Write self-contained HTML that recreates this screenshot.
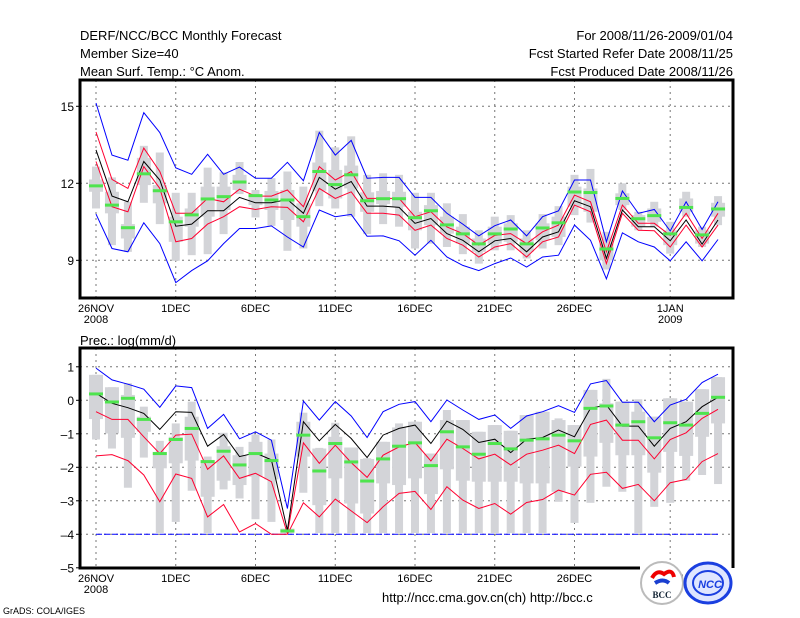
<!DOCTYPE html>
<html><head><meta charset="utf-8">
<style>
html,body{margin:0;padding:0;background:#fff;}
svg{display:block;font-family:"Liberation Sans",sans-serif;}
</style></head>
<body>
<svg id="chart" width="800" height="618" viewBox="0 0 800 618" xmlns="http://www.w3.org/2000/svg">
<rect width="800" height="618" fill="#fff"/>
<g font-size="13" fill="#000">
<text x="80" y="40">DERF/NCC/BCC Monthly Forecast</text>
<text x="80" y="58">Member Size=40</text>
<text x="80" y="76">Mean Surf. Temp.: °C Anom.</text>
<text x="733" y="40" text-anchor="end">For 2008/11/26-2009/01/04</text>
<text x="733" y="58" text-anchor="end">Fcst Started Refer Date 2008/11/25</text>
<text x="733" y="76" text-anchor="end">Fcst Produced Date 2008/11/26</text>
<text x="80" y="345">Prec.: log(mm/d)</text>
</g>
<g id="top"></g>
<g id="bot"></g>
<g font-size="13">
<text x="382" y="602">http://ncc.cma.gov.cn(ch)   http://bcc.c</text>
<text x="3" y="614" font-size="9">GrADS: COLA/IGES</text>
</g>
<g>
<circle cx="662" cy="583" r="21" fill="#fff" stroke="#bbb" stroke-width="2"/>
<path d="M652 578 q5 -9 12 -4 q8 -6 10 3" stroke="#e00" stroke-width="4" fill="none"/>
<path d="M655 583 q8 -5 14 0" stroke="#1a3fd0" stroke-width="4" fill="none"/>
<text x="662" y="598" font-size="9" font-weight="bold" text-anchor="middle" fill="#123" font-family="Liberation Serif,serif">BCC</text>
</g>
<g>
<ellipse cx="708" cy="583" rx="23" ry="20" fill="#dfe6ff" stroke="#1a3fe0" stroke-width="3"/>
<ellipse cx="708" cy="583" rx="15" ry="12" fill="none" stroke="#1a3fe0" stroke-width="2"/>
<text x="710" y="588" font-size="11" font-weight="bold" font-style="italic" text-anchor="middle" fill="#1a3fe0">NCC</text>
</g>
</svg>
<script>
// ---- data ----
const days = 40;
const xTickDays = [0,5,10,15,20,25,30,36];
const xTickLabels = ["26NOV","1DEC","6DEC","11DEC","16DEC","21DEC","26DEC","1JAN"];
const xTickYears = ["2008","","","","","","","2009"];
const tTicks = [15,12,9];
const pTicks = [1,0,-1,-2,-3,-4,-5];

const tBlueHi = [15.13,13.1,12.9,14.75,13.98,12.6,12.35,13.13,12.35,12.63,12.2,12.2,12.82,12.1,13.98,13.1,13.67,12.2,12.23,12.23,11.45,11.45,10.83,10.41,9.95,10.35,10.57,9.95,10.7,10.93,12.13,12.13,9.72,11.7,10.83,10.98,10.14,11.28,10.2,11.28];
const tRedHi = [14.0,12.15,11.8,13.37,12.46,10.83,10.83,11.41,11.28,11.77,11.5,11.5,11.74,11.09,12.65,12.13,12.46,11.41,11.41,11.41,10.7,10.89,10.3,10.04,9.59,9.97,10.04,9.65,10.11,10.37,11.54,11.28,9.33,11.15,10.44,10.44,9.97,10.83,9.85,10.83];
const tMean = [13.3,11.5,11.28,12.85,12.13,10.33,10.41,10.93,10.93,11.45,11.24,11.24,11.37,10.83,12.23,11.77,12.07,11.11,11.11,11.06,10.44,10.63,10.04,9.78,9.33,9.76,9.85,9.33,9.91,10.11,11.32,11.09,9.07,10.96,10.31,10.31,9.76,10.57,9.63,10.57];
const tRedLo = [12.85,11.09,10.89,12.65,11.8,9.72,9.85,10.41,10.7,11.09,10.98,11.09,11.06,10.5,11.8,11.41,11.67,10.83,10.83,10.76,10.17,10.37,9.85,9.59,9.13,9.52,9.65,9.13,9.72,9.91,11.15,10.89,8.87,10.83,10.17,10.15,9.52,10.37,9.52,10.37];
const tBlueLo = [10.8,9.46,9.33,10.46,9.65,8.13,8.6,8.98,9.65,10.24,10.24,10.34,9.91,9.52,10.96,10.7,10.79,9.94,9.95,9.76,9.2,9.78,9.13,8.8,8.6,8.87,9.09,8.74,9.13,9.2,10.37,9.78,8.28,10.07,9.72,9.52,8.98,9.72,8.98,9.81];
const tObs = [11.9,11.15,10.27,12.37,11.71,10.5,10.77,11.39,11.48,12.05,11.52,11.35,11.35,10.7,12.46,11.95,12.33,11.32,11.4,11.4,10.66,10.93,10.38,10.03,9.64,10.03,10.22,9.64,10.26,10.46,11.66,11.64,9.44,11.41,10.62,10.74,10.03,11.06,9.99,11.0];
const tMax = [12.65,12.23,11.28,13.46,13.2,11.63,11.63,12.61,12.43,12.83,11.74,12.2,12.46,11.87,14.05,13.4,13.83,12.33,12.39,12.33,11.63,11.63,11.22,10.8,10.17,10.7,10.76,10.17,10.8,11.11,12.33,12.56,10.11,12.0,10.89,11.28,10.5,11.67,10.31,11.5];
const tMin = [11.02,9.59,9.33,11.24,10.41,8.98,9.2,9.24,10.02,11.58,10.67,10.34,9.37,9.46,11.11,11.02,10.7,10.02,10.41,10.31,9.46,9.65,9.52,9.24,8.87,9.39,9.39,9.07,9.46,9.59,10.76,10.47,8.64,10.96,10.17,10.31,9.26,10.7,9.52,10.37];
const tQ3 = [12.15,11.67,10.41,12.99,11.93,10.7,11.02,11.87,11.87,12.33,11.54,11.7,11.74,11.22,12.81,12.52,12.69,11.65,11.7,11.67,10.89,11.15,10.7,10.31,9.85,10.31,10.44,9.85,10.44,10.7,11.87,11.8,9.65,11.61,10.76,11.02,10.17,11.41,10.17,11.24];
const tQ1 = [11.67,10.83,9.85,11.93,11.22,9.72,10.31,10.7,10.96,11.74,11.15,10.96,10.57,10.31,11.71,11.41,11.8,10.89,11.19,11.09,10.17,10.37,10.04,9.65,9.33,9.65,9.72,9.33,9.78,9.91,11.09,10.89,9.0,11.15,10.31,10.5,9.59,10.89,9.65,10.7];

const pBlueHi = [0.96,0.61,0.48,0.33,-0.21,0.43,0.38,-0.84,-0.42,-1.15,-0.94,-1.19,-3.23,-0.02,-0.59,-0.04,-0.47,-1.11,-0.34,-0.12,-0.04,-0.64,0.01,-0.29,-0.57,-0.44,-0.84,-0.47,-0.34,-0.16,-0.36,0.49,0.59,-0.06,-0.06,-0.64,-0.14,0.03,0.53,0.78];
const pRedHi = [-0.34,-0.57,-0.57,-1.09,-1.59,-1.04,-1.01,-2.06,-1.66,-2.33,-2.18,-2.43,-3.98,-1.27,-1.88,-1.34,-1.86,-2.3,-1.64,-1.39,-1.26,-1.81,-1.16,-1.44,-1.75,-1.61,-1.93,-1.61,-1.49,-1.34,-1.59,-0.72,-0.59,-1.19,-1.19,-1.75,-1.17,-0.97,-0.54,-0.27];
const pMean = [0.21,-0.09,-0.22,-0.39,-0.87,-0.34,-0.36,-1.37,-1.02,-1.68,-1.57,-1.78,-3.88,-0.64,-1.21,-0.72,-1.14,-1.71,-1.04,-0.84,-0.74,-1.29,-0.62,-0.87,-1.26,-1.16,-1.56,-1.16,-1.11,-0.89,-1.09,-0.24,-0.14,-0.77,-0.77,-1.37,-0.84,-0.64,-0.19,0.09];
const pRedLo = [-1.66,-1.62,-1.8,-2.23,-3.03,-2.2,-2.33,-3.48,-3.11,-3.93,-3.68,-4,-4,-3.06,-3.48,-2.95,-3.3,-3.65,-3.18,-2.78,-2.72,-3.26,-2.58,-2.98,-3.23,-3.08,-3.4,-3.05,-2.96,-2.68,-2.83,-2.21,-2.15,-2.63,-2.51,-3.0,-2.46,-2.36,-1.83,-1.59];
const pBlueLo = [-4,-4,-4,-4,-4,-4,-4,-4,-4,-4,-4,-4,-4,-4,-4,-4,-4,-4,-4,-4,-4,-4,-4,-4,-4,-4,-4,-4,-4,-4,-4,-4,-4,-4,-4,-4,-4,-4,-4,-4];
const pObs = [0.19,-0.05,0.06,-0.57,-1.59,-1.17,-0.84,-1.83,-1.52,-1.93,-1.59,-1.8,-3.9,-1.04,-2.11,-1.29,-1.84,-2.41,-1.75,-1.37,-1.27,-1.95,-0.94,-1.39,-1.61,-1.29,-1.45,-1.19,-1.15,-1.04,-1.21,-0.24,-0.17,-0.74,-0.64,-1.12,-0.67,-0.74,-0.39,0.09];
const pMax = [0.76,0.39,0.51,-0.19,-1.21,-0.69,-0.04,-1.68,-0.97,-1.39,-1.02,-1.17,-3.83,-0.37,-1.42,-0.67,-1.41,-1.73,-1.24,-0.69,-0.64,-1.59,-0.29,-0.59,-0.94,-0.74,-0.91,-0.44,-0.34,-0.54,-0.74,0.31,0.64,-0.04,0.03,-0.49,0.06,-0.04,0.33,0.69];
const pMin = [-1.17,-1.44,-2.61,-1.71,-3.96,-3.63,-2.7,-3.96,-2.66,-2.93,-3.55,-3.63,-3.96,-2.76,-3.96,-3.96,-3.96,-3.96,-3.96,-3.96,-3.96,-3.96,-3.96,-3.96,-3.96,-3.96,-3.96,-3.96,-3.96,-3.03,-3.66,-3.06,-2.58,-2.73,-3.96,-3.18,-3.06,-2.4,-2.23,-2.5];
const pQ3 = [0.76,0.39,0.16,-0.49,-1.54,-1.09,-0.49,-1.78,-1.37,-1.64,-1.24,-1.59,-3.83,-0.64,-1.44,-1.09,-1.41,-1.75,-1.24,-0.81,-0.64,-1.59,-0.59,-0.59,-0.94,-0.74,-0.91,-0.44,-0.34,-0.59,-0.74,0.31,-0.09,-0.04,-0.34,-0.49,0.06,-0.04,0.33,0.69];
const pQ1 = [-0.56,-0.99,-1.12,-0.94,-2.03,-1.88,-1.8,-2.88,-2.4,-2.53,-2.28,-2.36,-3.96,-1.68,-3.13,-2.33,-3.08,-3.38,-2.48,-2.53,-2.33,-2.8,-2.06,-2.4,-2.43,-2.43,-2.43,-2.48,-2.48,-2.73,-1.98,-1.68,-1.27,-1.64,-1.64,-2.16,-1.54,-1.66,-1.09,-0.69];

// ---- layout ----
const NS = "http://www.w3.org/2000/svg";
const X0 = 96, DX = 15.95, FL = 80, FR = 733;
function xs(d){ return X0 + d*DX; }
const topP = {g:document.getElementById('top'), top:80, bot:298, y:v=>183.3-(v-12)*25.67};
const botP = {g:document.getElementById('bot'), top:348, bot:568, y:v=>400.3-v*33.5};
function mk(parent, tag, attrs){
  const e = document.createElementNS(NS, tag);
  for (const k in attrs) e.setAttribute(k, attrs[k]);
  parent.appendChild(e); return e;
}
function panel(P, yTicks, gridTicks, S, name){
  const g = P.g;
  xTickDays.forEach(d=>{
    const l = mk(g,'line',{x1:xs(d),x2:xs(d),y1:P.top,y2:P.bot,stroke:'#777','stroke-dasharray':'2,4','stroke-width':1});
    
    
  });
  gridTicks.forEach(v=>{
    const l = mk(g,'line',{x1:FL,x2:FR,y1:P.y(v),y2:P.y(v),stroke:'#777','stroke-dasharray':'2,4','stroke-width':1});
    
    
  });
  for (let d=0; d<days; d++){
    const cx = xs(d);
    const o = mk(g,'rect',{x:cx-4,y:P.y(S.max[d]),width:8,height:Math.max(1,P.y(S.min[d])-P.y(S.max[d])),fill:'#d3d4d8'});
    
    
    const q = mk(g,'rect',{x:cx-7,y:P.y(S.q3[d]),width:14,height:Math.max(1,P.y(S.q1[d])-P.y(S.q3[d])),fill:'#d3d4d8'});
    
    
  }
  const lines = [[S.blo,'#0000ff',name+'-min-line'],[S.bhi,'#0000ff',name+'-max-line'],[S.rlo,'#ff0030',name+'-lower-line'],[S.rhi,'#ff0030',name+'-upper-line'],[S.mean,'#000',name+'-mean-line']];
  lines.forEach(([arr,c,n])=>{
    const pts = arr.map((v,d)=>xs(d).toFixed(1)+','+P.y(v).toFixed(1)).join(' ');
    const attrs = {points:pts,fill:'none',stroke:c,'stroke-width':1};
    if (S.dashLo && arr===S.blo) attrs['stroke-dasharray']='6,2';
    const pl = mk(g,'polyline',attrs);
    
    
  });
  S.obs.forEach((v,d)=>{
    const r = mk(g,'rect',{x:xs(d)-7,y:P.y(v)-1.5,width:14,height:3,fill:'#4ee44e'});
    
    
  });
  yTicks.forEach(v=>{
    const t = mk(g,'text',{x:74,y:P.y(v)+4.5,'text-anchor':'end','font-size':12});
    t.textContent = String(v).replace('-','\u2013');
    
    
    const tk = mk(g,'line',{x1:FL-4,x2:FL,y1:P.y(v),y2:P.y(v),stroke:'#000'});
    
    
  });
  xTickDays.forEach((d,i)=>{
    const t = mk(g,'text',{x:xs(d),y:P.bot+14,'text-anchor':'middle','font-size':11});
    t.textContent = xTickLabels[i];
    
    
    if (xTickYears[i]){
      const t2 = mk(g,'text',{x:xs(d),y:P.bot+25,'text-anchor':'middle','font-size':11});
      t2.textContent = xTickYears[i];
      
      
    }
  });
}
panel(topP,tTicks,tTicks,{bhi:tBlueHi,rhi:tRedHi,mean:tMean,rlo:tRedLo,blo:tBlueLo,obs:tObs,max:tMax,min:tMin,q3:tQ3,q1:tQ1},'temp');
panel(botP,pTicks,[1,0,-1,-2,-3,-4],{bhi:pBlueHi,rhi:pRedHi,mean:pMean,rlo:pRedLo,blo:pBlueLo,obs:pObs,max:pMax,min:pMin,q3:pQ3,q1:pQ1,dashLo:true},'prec');
const f1 = mk(topP.g,'rect',{x:FL,y:80,width:FR-FL,height:218,fill:'none',stroke:'#000','stroke-width':3});


const f2 = mk(botP.g,'path',{d:'M640 568 H80 V348 H733 V568',fill:'none',stroke:'#000','stroke-width':3});


</script>
</body></html>
